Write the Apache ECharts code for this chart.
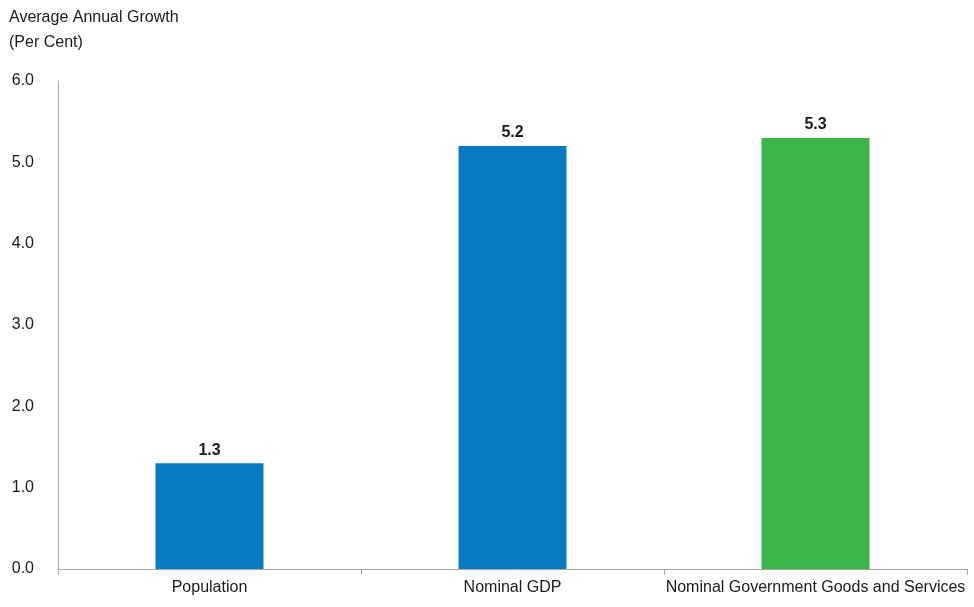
<!DOCTYPE html>
<html>
<head>
<meta charset="utf-8">
<script src="https://cdn.jsdelivr.net/npm/echarts@6/dist/echarts.min.js"></script>
<style>html,body{margin:0;padding:0;background:#fff}#c{width:974px;height:607px}</style>
</head>
<body>
<div id="c"></div>
<script>
const categories = ['Population', 'Nominal GDP', 'Nominal Government Goods and Services'];
const values = [1.3, 5.2, 5.3];
const barColors = ['#0579C1', '#0579C1', '#3AB54A'];
const yTicks = [0, 1, 2, 3, 4, 5, 6];

const chart = echarts.init(document.getElementById('c'), null, {renderer: 'canvas'});
const font = 'Liberation Sans, Arial, sans-serif';
chart.setOption({
  animation: false,
  backgroundColor: '#fff',
  title: {
    text: 'Average Annual Growth\n(Per Cent)',
    left: 9, top: 5, padding: 0,
    textStyle: {fontFamily: font, fontSize: 16, fontWeight: 'normal', color: '#1a1a1a', lineHeight: 25}
  },
  grid: {left: 58, right: 7, top: 81, bottom: 38, containLabel: false},
  xAxis: {
    type: 'category',
    data: categories,
    axisLine: {lineStyle: {color: '#A6A6A6', width: 1}},
    axisTick: {show: true, length: 6, lineStyle: {color: '#A6A6A6'}},
    axisLabel: {fontFamily: font, fontSize: 16, color: '#1a1a1a', margin: 11, interval: 0}
  },
  yAxis: {
    type: 'value',
    min: yTicks[0], max: yTicks[yTicks.length - 1], interval: 1,
    axisLine: {show: true, lineStyle: {color: '#A6A6A6', width: 1}},
    axisTick: {show: false},
    splitLine: {show: false},
    axisLabel: {fontFamily: font, fontSize: 16, color: '#1a1a1a', margin: 24,
      formatter: v => v.toFixed(1)}
  },
  series: [{
    type: 'bar',
    barWidth: 108,
    data: values.map((v, i) => ({value: v, itemStyle: {color: barColors[i]}})),
    label: {show: true, position: 'top', distance: 5, fontFamily: font, fontSize: 16,
      fontWeight: 'bold', color: '#1a1a1a', formatter: p => p.value.toFixed(1)}
  }]
});
</script>
</body>
</html>
